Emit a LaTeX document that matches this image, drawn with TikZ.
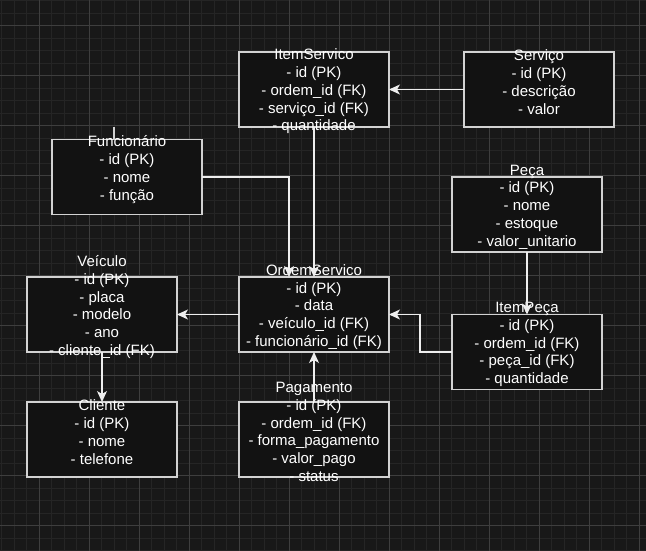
\documentclass[tikz,border=0pt]{standalone}
\usepackage{fontspec}
\newfontfamily\diagramFont{Liberation Sans}
\usepackage{xcolor}
\definecolor{canvasBg}{HTML}{181818}
\definecolor{gridMinor}{HTML}{252525}
\definecolor{gridMajor}{HTML}{3E3E3E}
\definecolor{boxBg}{HTML}{121212}
\definecolor{boxLine}{HTML}{D2D2D2}
\definecolor{edgeLine}{HTML}{EEEEEE}
\usepackage{tikz}
\usetikzlibrary{positioning,arrows.meta}
\tikzset{%
  entityBox/.style={%
    rectangle,
    draw=boxLine,
    fill=boxBg,
    line width=1.3pt,
    outer sep=0pt,
    minimum width=150pt,
    minimum height=75pt
  },
  entityText/.style={%
    text=white,
    align=center,
    inner sep=0pt,
    font=\diagramFont\fontsize{15}{17.8}\selectfont,
    yshift=#1
  },
  entityText/.default=7.5pt,
  relArrow/.style={%
    -{Stealth[length=11pt,width=10pt,inset=3pt]},
    line width=1.3pt,
    color=edgeLine
  },
  relLine/.style={%
    line width=1.3pt,
    color=boxLine
  },
  minorGrid/.style={draw=gridMinor, line width=0.8pt, step=12.5pt},
  majorGrid/.style={draw=gridMajor, line width=1pt, step=50pt}
}

\begin{document}
\begin{tikzpicture}[x=1pt,y=-1pt]
  \useasboundingbox (0,0) rectangle (646,551);
  \fill[canvasBg] (0,0) rectangle (646,551);
  \begin{scope}
    \clip (0,0) rectangle (646,551);
    \draw[minorGrid, shift={(39,25.7)}] (-50,560) grid (650,-50);
    \draw[majorGrid, shift={(39,25.7)}] (-50,560) grid (650,-50);
  \end{scope}

  % boxes
  \node[entityBox] (ordemServico) at (314,314.5) {};
  \node[entityBox, above=150pt of ordemServico] (itemServico) {};
  \node[entityBox, right=75pt of itemServico] (servico) {};
  \node[entityBox, left=62pt of ordemServico] (veiculo) {};
  \node[entityBox, below=50pt of veiculo] (cliente) {};
  \node[entityBox, below=50pt of ordemServico] (pagamento) {};
  \node[entityBox] (funcionario) at (127,177) {};
  \node[entityBox, right=63pt of ordemServico, yshift=-37.5pt] (itemPeca) {};
  \node[entityBox, above=62.5pt of itemPeca] (peca) {};

  % texts
  \node[entityText=-2pt] (itemServicoText) at (itemServico) {ItemServico\\- id (PK)\\- ordem\_id (FK)\\- serviço\_id (FK)\\- quantidade};
  \node[entityText] (servicoText) at (servico) {Serviço\\- id (PK)\\- descrição\\- valor};
  \node[entityText] (funcionarioText) at (funcionario) {Funcionário\\- id (PK)\\- nome\\- função};
  \node[entityText] (pecaText) at (peca) {Peça\\- id (PK)\\- nome\\- estoque\\- valor\_unitario};
  \node[entityText] (veiculoText) at (veiculo) {Veículo\\- id (PK)\\- placa\\- modelo\\- ano\\- cliente\_id (FK)};
  \node[entityText] (ordemServicoText) at (ordemServico) {OrdemServico\\- id (PK)\\- data\\- veículo\_id (FK)\\- funcionário\_id (FK)};
  \node[entityText] (itemPecaText) at (itemPeca) {ItemPeça\\- id (PK)\\- ordem\_id (FK)\\- peça\_id (FK)\\- quantidade};
  \node[entityText] (clienteText) at (cliente) {Cliente\\- id (PK)\\- nome\\- telefone};
  \node[entityText] (pagamentoText) at (pagamento) {Pagamento\\- id (PK)\\- ordem\_id (FK)\\- forma\_pagamento\\- valor\_pago\\- status};

  % relations
  \coordinate (funcStub) at (114,127.5);
  \draw[relLine] (funcStub) -- (funcStub |- funcionario.north);
  \draw[relArrow] (servico) -- (itemServico);
  \draw[relArrow] (itemServico) -- (ordemServico);
  \draw[relArrow] (funcionario.east) -| ([xshift=-25pt]ordemServico.north);
  \draw[relArrow] (ordemServico) -- (veiculo);
  \draw[relArrow] (veiculo) -- (cliente);
  \draw[relArrow] (pagamento) -- (ordemServico);
  \draw[relArrow] (peca) -- (itemPeca);
  \draw[relArrow] (itemPeca.west) -- ++(-32pt,0) |- (ordemServico.east);
\end{tikzpicture}
\end{document}
